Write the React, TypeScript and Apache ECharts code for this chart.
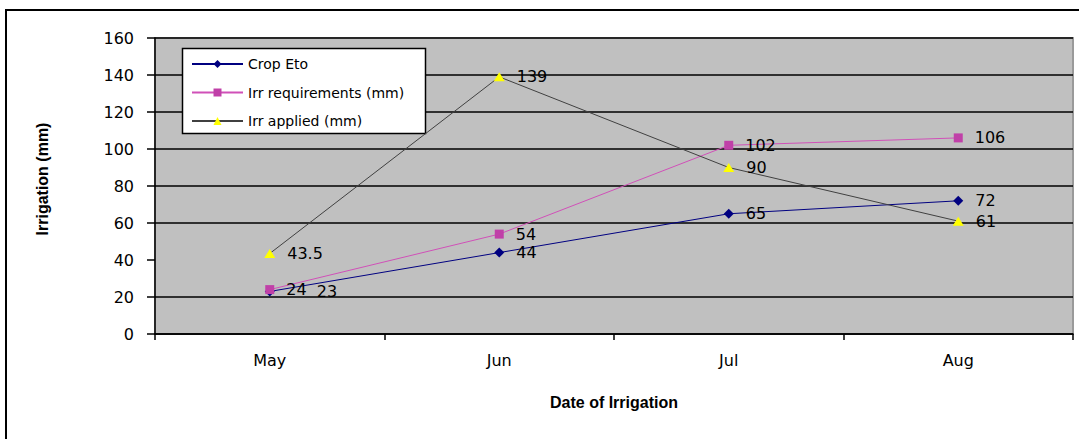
import React, { useEffect, useRef } from "react";
import * as echarts from "echarts";

const months = ["May", "Jun", "Jul", "Aug"];
const cropEto = [23, 44, 65, 72];
const irrRequirements = [24, 54, 102, 106];
const irrApplied = [43.5, 139, 90, 61];
const yTicks = { min: 0, max: 160, step: 20 };

const labelFont = "'DejaVu Sans', Verdana, sans-serif";
const titleFont = "'Liberation Sans Narrow', 'Liberation Sans', Arial, sans-serif";

export default function App() {
  const ref = useRef<HTMLDivElement>(null);

  useEffect(() => {
    if (!ref.current) return;
    const chart = echarts.init(ref.current, undefined, { renderer: "svg" });

    const dataLabel = {
      show: true,
      position: "right" as const,
      distance: 12,
      color: "#000",
      fontSize: 16,
      fontFamily: labelFont,
    };

    // gridline colours cycle per split line: 0,20,40,...,160
    const gridColors = ["#000", "#000", "rgba(0,0,0,0)", "#000", "#000", "#000", "#000", "#000", "#000"];

    chart.setOption({
      animation: false,
      backgroundColor: "#fff",
      grid: {
        left: 155,
        top: 38,
        right: 6,
        bottom: 105,
        show: true,
        backgroundColor: "#C0C0C0",
        borderColor: "#9a9a9a",
        borderWidth: 2,
      },
      legend: {
        orient: "vertical",
        left: 191,
        top: 57,
        padding: 0,
        itemWidth: 51,
        itemHeight: 10,
        itemGap: 14.5,
        textStyle: { color: "#000", fontSize: 14, fontFamily: labelFont },
        data: ["Crop Eto", "Irr requirements (mm)", "Irr applied (mm)"],
      },
      xAxis: {
        type: "category",
        data: months,
        boundaryGap: true,
        axisLine: { lineStyle: { color: "#000", width: 1.5 } },
        axisTick: { show: true, length: 6, lineStyle: { color: "#000", width: 1.5 } },
        axisLabel: { color: "#000", fontSize: 16, fontFamily: labelFont, margin: 18 },
        splitLine: { show: false },
        name: "Date of Irrigation",
        nameLocation: "middle",
        nameGap: 60,
        nameTextStyle: {
          color: "#000",
          fontSize: 16,
          fontWeight: "bold",
          fontFamily: titleFont,
        },
      },
      yAxis: {
        type: "value",
        min: yTicks.min,
        max: yTicks.max,
        interval: yTicks.step,
        axisLine: { show: true, lineStyle: { color: "#000", width: 1.5 } },
        axisTick: { show: true, length: 8, lineStyle: { color: "#000", width: 1.5 } },
        axisLabel: { color: "#000", fontSize: 16, fontFamily: labelFont, margin: 21 },
        splitLine: { show: true, lineStyle: { color: gridColors, width: 1.5 } },
      },
      graphic: [
        {
          type: "rect",
          z: 0,
          shape: { x: 6, y: 10, width: 1200, height: 600 },
          style: { fill: "none", stroke: "#000", lineWidth: 2 },
          silent: true,
        },
        {
          type: "rect",
          z: 3,
          shape: { x: 182.5, y: 48.5, width: 243, height: 85 },
          style: { fill: "#fff", stroke: "#000", lineWidth: 1.5 },
          silent: true,
        },
        {
          type: "text",
          x: 42,
          y: 179,
          rotation: Math.PI / 2,
          style: {
            text: "Irrigation (mm)",
            fill: "#000",
            fontSize: 16,
            fontWeight: "bold",
            fontFamily: titleFont,
            align: "center",
            verticalAlign: "middle",
          },
        },
      ],
      series: [
        {
          name: "Crop Eto",
          type: "line",
          data: cropEto.map((v, i) =>
            i === 0 ? { value: v, label: { offset: [30, 0] } } : v
          ),
          symbol: "diamond",
          symbolSize: 10,
          lineStyle: { color: "#000080", width: 1 },
          itemStyle: { color: "#000080" },
          label: dataLabel,
        },
        {
          name: "Irr requirements (mm)",
          type: "line",
          data: irrRequirements,
          symbol: "rect",
          symbolSize: 9,
          lineStyle: { color: "#d050b8", width: 1 },
          itemStyle: { color: "#c040a8" },
          label: dataLabel,
        },
        {
          name: "Irr applied (mm)",
          type: "line",
          data: irrApplied,
          symbol: "triangle",
          symbolSize: [11, 9],
          lineStyle: { color: "#404040", width: 1 },
          itemStyle: { color: "#ffff00" },
          label: dataLabel,
        },
      ],
    });

    return () => chart.dispose();
  }, []);

  return (
    <div
      ref={ref}
      style={{ position: "fixed", left: 0, top: 0, width: 1079, height: 439 }}
    />
  );
}
